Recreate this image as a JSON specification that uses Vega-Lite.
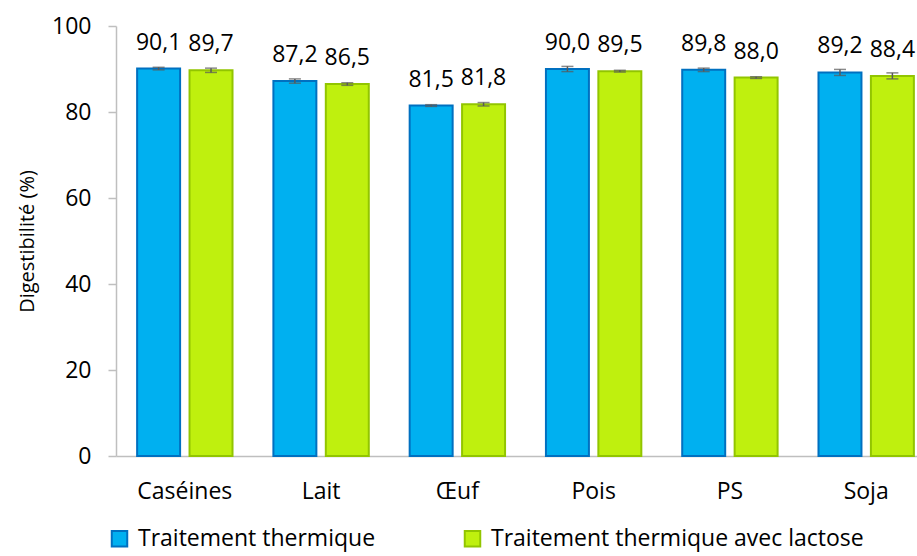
{
  "$schema": "https://vega.github.io/schema/vega-lite/v6.json",
  "autosize": "none",
  "padding": {"left": 116, "top": 26, "right": 0, "bottom": 100},
  "width": 819,
  "height": 430,
  "background": "white",
  "config": {
    "font": "Open Sans",
    "view": {"stroke": null},
    "axis": {"grid": false, "domainColor": "#BFBFBF", "domainWidth": 1.5, "tickColor": "#BFBFBF", "tickWidth": 1.5, "labelColor": "#000000", "titleColor": "#000000", "titleFontWeight": "normal", "labelFontSize": 23, "titleFontSize": 20},
    "axisX": {"labelPadding": 24, "ticks": false, "labelAngle": 0},
    "axisY": {"labelPadding": 17, "tickSize": 8, "titlePadding": 14}
  },
  "data": {
    "values": [
      {"cat": "Caséines", "trt": "Traitement thermique", "value": 90.1, "err": 0.3, "label": "90,1"},
      {"cat": "Caséines", "trt": "Traitement thermique avec lactose", "value": 89.7, "err": 0.5, "label": "89,7"},
      {"cat": "Lait", "trt": "Traitement thermique", "value": 87.2, "err": 0.5, "label": "87,2"},
      {"cat": "Lait", "trt": "Traitement thermique avec lactose", "value": 86.5, "err": 0.3, "label": "86,5"},
      {"cat": "Œuf", "trt": "Traitement thermique", "value": 81.5, "err": 0.2, "label": "81,5"},
      {"cat": "Œuf", "trt": "Traitement thermique avec lactose", "value": 81.8, "err": 0.4, "label": "81,8"},
      {"cat": "Pois", "trt": "Traitement thermique", "value": 90.0, "err": 0.6, "label": "90,0"},
      {"cat": "Pois", "trt": "Traitement thermique avec lactose", "value": 89.5, "err": 0.2, "label": "89,5"},
      {"cat": "PS", "trt": "Traitement thermique", "value": 89.8, "err": 0.4, "label": "89,8"},
      {"cat": "PS", "trt": "Traitement thermique avec lactose", "value": 88.0, "err": 0.2, "label": "88,0"},
      {"cat": "Soja", "trt": "Traitement thermique", "value": 89.2, "err": 0.7, "label": "89,2"},
      {"cat": "Soja", "trt": "Traitement thermique avec lactose", "value": 88.4, "err": 0.7, "label": "88,4"}
    ]
  },
  "transform": [
    {"calculate": "datum.value - datum.err", "as": "lo"},
    {"calculate": "datum.value + datum.err", "as": "hi"}
  ],
  "encoding": {
    "x": {
      "field": "cat", "type": "nominal", "sort": null,
      "scale": {"paddingInner": 0.3, "paddingOuter": 0.155},
      "axis": {"title": null}
    },
    "xOffset": {"field": "trt", "type": "nominal", "scale": {"paddingInner": 0.18}}
  },
  "layer": [
    {
      "mark": {"type": "bar", "strokeWidth": 2},
      "encoding": {
        "y": {
          "field": "value", "type": "quantitative",
          "scale": {"domain": [0, 100]},
          "axis": {"title": "Digestibilité (%)", "values": [0, 20, 40, 60, 80, 100]}
        },
        "fill": {
          "field": "trt", "type": "nominal",
          "scale": {"range": ["#00B0F0", "#BFF00E"]},
          "legend": {"title": null, "orient": "none", "legendX": -8, "legendY": 501, "direction": "horizontal", "columns": 2, "columnPadding": 84, "symbolType": "square", "symbolSize": 240, "symbolStrokeWidth": 2, "labelFontSize": 23, "labelColor": "#000000", "labelOffset": 7, "labelLimit": 500}
        },
        "stroke": {
          "field": "trt", "type": "nominal",
          "scale": {"range": ["#0070C0", "#92C500"]}
        }
      }
    },
    {
      "mark": {"type": "rule", "color": "#595959", "strokeWidth": 1.5},
      "encoding": {"y": {"field": "lo", "type": "quantitative"}, "y2": {"field": "hi"}}
    },
    {
      "mark": {"type": "tick", "color": "#595959", "thickness": 1.5, "size": 12, "orient": "horizontal"},
      "encoding": {"y": {"field": "lo", "type": "quantitative"}}
    },
    {
      "mark": {"type": "tick", "color": "#595959", "thickness": 1.5, "size": 12, "orient": "horizontal"},
      "encoding": {"y": {"field": "hi", "type": "quantitative"}}
    },
    {
      "mark": {"type": "text", "baseline": "alphabetic", "dy": -19, "fontSize": 23, "color": "#000000"},
      "encoding": {"y": {"field": "value", "type": "quantitative"}, "text": {"field": "label"}}
    }
  ]
}
